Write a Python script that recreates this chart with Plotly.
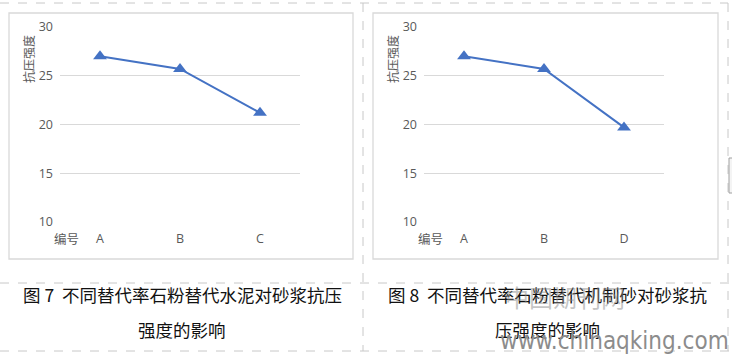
import plotly.graph_objects as go

W, H = 732, 355
categories_left = ["A", "B", "C"]
values_left = [27.0, 25.7, 21.2]
categories_right = ["A", "B", "D"]
values_right = [27.0, 25.7, 19.7]
y_ticks = [10, 15, 20, 25, 30]
y_title = "抗压强度"
x_title = "编号"
caption_left = ["图 7  不同替代率石粉替代水泥对砂浆抗压", "强度的影响"]
caption_right = ["图 8  不同替代率石粉替代机制砂对砂浆抗", "压强度的影响"]

def px(x):
    return x / W

def py(y):
    return 1 - y / H

fig = go.Figure()
line_color = "#4472C4"
fig.add_trace(go.Scatter(x=categories_left, y=values_left, mode="lines+markers",
                         line=dict(color=line_color, width=2),
                         marker=dict(symbol="triangle-up", size=12, color=line_color),
                         xaxis="x", yaxis="y", showlegend=False))
fig.add_trace(go.Scatter(x=categories_right, y=values_right, mode="lines+markers",
                         line=dict(color=line_color, width=2),
                         marker=dict(symbol="triangle-up", size=12, color=line_color),
                         xaxis="x2", yaxis="y2", showlegend=False))

tickfont = dict(family="Open Sans, DejaVu Sans, sans-serif", size=12.5, color="#595959")
ydom = [py(222), py(27)]
common_y = dict(range=[10, 30], tickvals=y_ticks, showgrid=True, gridcolor="#d9d9d9",
                gridwidth=1, zeroline=False, showline=False, tickfont=tickfont,
                ticks="", ticklabelstandoff=6, domain=ydom, fixedrange=True, automargin=False)
common_x = dict(type="category", range=[-0.5, 2.5], showgrid=False, zeroline=False,
                showline=False, tickfont=tickfont, ticks="", ticklabelstandoff=7,
                fixedrange=True, automargin=False)

fig.update_layout(
    width=W, height=H, margin=dict(l=0, r=0, t=0, b=0, autoexpand=False),
    paper_bgcolor="white", plot_bgcolor="white",
    xaxis=dict(domain=[px(60), px(300)], anchor="y", **common_x),
    yaxis=dict(anchor="x", **common_y),
    xaxis2=dict(domain=[px(424), px(664)], anchor="y2", **common_x),
    yaxis2=dict(anchor="x2", **common_y),
)

shapes = []
for (x0, x1) in [(9, 353), (373, 718)]:
    shapes.append(dict(type="rect", xref="paper", yref="paper", x0=px(x0), x1=px(x1),
                       y0=py(259), y1=py(13), line=dict(color="#d9d9d9", width=1.3)))
dash = dict(color="#c8c8c8", width=1, dash="dash")
shapes.append(dict(type="line", xref="paper", yref="paper", x0=0, x1=px(728), y0=py(3), y1=py(3), line=dash))
shapes.append(dict(type="line", xref="paper", yref="paper", x0=0, x1=1, y0=py(283), y1=py(283), line=dash))
shapes.append(dict(type="line", xref="paper", yref="paper", x0=0, x1=1, y0=py(351), y1=py(351), line=dash))
shapes.append(dict(type="line", xref="paper", yref="paper", x0=px(363), x1=px(363), y0=py(3), y1=py(351), line=dash))
shapes.append(dict(type="line", xref="paper", yref="paper", x0=px(728), x1=px(728), y0=py(3), y1=py(351), line=dash))
shapes.append(dict(type="rect", xref="paper", yref="paper", x0=px(729), x1=px(733), y0=py(193), y1=py(158),
                   line=dict(color="#a0a0a0", width=1), fillcolor="#f4f4f4"))
fig.update_layout(shapes=shapes)

ann = []
for xc in [28, 392]:
    ann.append(dict(text=y_title, xref="paper", yref="paper", x=px(xc), y=py(59),
                    showarrow=False, textangle=-90, xanchor="center", yanchor="middle",
                    font=dict(family="Noto Sans CJK SC", size=12, color="#595959")))
for xc in [66, 430]:
    ann.append(dict(text=x_title, xref="paper", yref="paper", x=px(xc), y=py(238),
                    showarrow=False, xanchor="center", yanchor="middle",
                    font=dict(family="Noto Sans CJK SC", size=12.5, color="#595959")))
capfont = dict(family="Noto Sans CJK SC", size=17.5, color="#111111")
for xc, lines in [(182, caption_left), (547, caption_right)]:
    ann.append(dict(text=lines[0], xref="paper", yref="paper", x=px(xc), y=py(294),
                    showarrow=False, xanchor="center", yanchor="middle", font=capfont))
    ann.append(dict(text=lines[1], xref="paper", yref="paper", x=px(xc), y=py(329),
                    showarrow=False, xanchor="center", yanchor="middle", font=capfont))
ann.append(dict(text="中国期刊网", xref="paper", yref="paper", x=px(565), y=py(296),
                showarrow=False, xanchor="center", yanchor="middle",
                font=dict(family="Noto Sans CJK SC", size=24, color="rgba(140,140,140,0.5)")))
ann.append(dict(text="www.chinaqking.com", xref="paper", yref="paper", x=px(731), y=py(341),
                showarrow=False, xanchor="right", yanchor="middle",
                font=dict(family="Liberation Sans Narrow, DejaVu Sans Condensed, sans-serif", size=24, color="#8c8c8c")))
fig.update_layout(annotations=ann)

fig.write_html("out.html")
